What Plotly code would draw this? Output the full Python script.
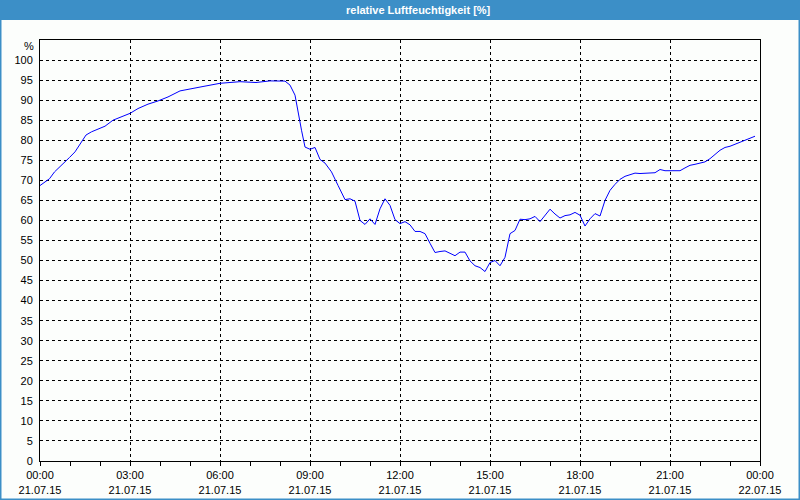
import plotly.graph_objects as go

DATE = "2015-07-21"
times = ["00:00", "00:10", "00:19", "00:29", "00:39", "00:49", "00:59", "01:10", "01:23", "01:32",
         "01:43", "01:56", "02:10", "02:26", "02:43", "03:00", "03:16", "03:36", "03:56", "04:16",
         "04:40", "05:02", "05:30", "06:00", "06:16", "06:40", "07:12", "07:40", "08:10", "08:20",
         "08:30", "08:36", "08:43", "08:50", "09:00", "09:10", "09:20", "09:30", "09:43", "09:56",
         "10:10", "10:20", "10:30", "10:40", "10:50", "11:00", "11:10", "11:20", "11:30", "11:40",
         "11:50", "12:00", "12:10", "12:20", "12:30", "12:40", "12:50", "13:00", "13:10", "13:20",
         "13:30", "13:40", "13:50", "14:00", "14:10", "14:20", "14:30", "14:40", "14:50", "15:00",
         "15:10", "15:20", "15:30", "15:40", "15:50", "16:00", "16:10", "16:20", "16:30", "16:40",
         "16:50", "17:00", "17:10", "17:20", "17:30", "17:40", "17:50", "18:00", "18:10", "18:20",
         "18:30", "18:40", "18:50", "19:00", "19:10", "19:20", "19:30", "19:40", "19:50", "20:00",
         "20:10", "20:20", "20:30", "20:40", "20:50", "21:00", "21:10", "21:20", "21:30", "21:40",
         "21:50", "22:00", "22:10", "22:20", "22:30", "22:40", "22:50", "23:00", "23:10", "23:20",
         "23:30", "23:40", "23:50"]
humidity = [68.7, 69.6, 70.4, 72.1, 73.3, 74.3, 75.7, 77.1, 79.6, 81.3,
            82.1, 82.7, 83.5, 85.0, 85.8, 86.7, 87.9, 89.0, 89.8, 90.8,
            92.3, 92.9, 93.5, 94.2, 94.4, 94.6, 94.4, 94.8, 94.75, 93.75,
            91.25, 86.7, 82.5, 78.3, 77.75, 78.2, 75.2, 74.3, 72.1, 68.75,
            65.2, 65.4, 64.8, 60.0, 59.0, 60.4, 59.0, 62.9, 65.4, 63.75,
            60.2, 59.2, 59.7, 58.9, 57.25, 57.25, 56.7, 54.3, 52.0, 52.25,
            52.4, 51.8, 51.2, 52.1, 52.1, 49.9, 48.7, 48.25, 47.25, 49.5,
            50.0, 48.7, 50.8, 56.7, 57.5, 60.3, 60.2, 60.4, 61.0, 59.7,
            61.2, 62.8, 61.6, 60.6, 61.2, 61.4, 62.0, 61.3, 58.6, 60.4,
            61.7, 61.1, 65.0, 67.5, 69.0, 70.25, 71.0, 71.4, 71.8, 71.7,
            71.8, 71.8, 71.9, 72.7, 72.4, 72.4, 72.4, 72.4, 73.1, 73.75,
            74.0, 74.25, 74.6, 75.4, 76.5, 77.5, 78.2, 78.5, 79.0, 79.5,
            80.0, 80.4, 81.0]

tick_vals = ["2015-07-21 00:00", "2015-07-21 03:00", "2015-07-21 06:00", "2015-07-21 09:00",
             "2015-07-21 12:00", "2015-07-21 15:00", "2015-07-21 18:00", "2015-07-21 21:00",
             "2015-07-22 00:00"]
tick_times = ["00:00", "03:00", "06:00", "09:00", "12:00", "15:00", "18:00", "21:00", "00:00"]
tick_dates = ["21.07.15"] * 8 + ["22.07.15"]
y_ticks = list(range(0, 101, 5))
title_text = "relative Luftfeuchtigkeit [%]"
unit_text = "%"

x = [f"{DATE} {t}" for t in times]
ticktext = [f"{a}<br>{b}" for a, b in zip(tick_times, tick_dates)]

W, H = 800, 500
L, R, T, B = 40, 40, 40, 39
pw, ph = W - L - R, H - T - B
FONT = "Liberation Sans"
BLUE = "#3c8fc7"

fig = go.Figure()
fig.add_trace(go.Scatter(x=x, y=humidity, mode="lines",
                         line=dict(color="#0000ff", width=1), showlegend=False,
                         hoverinfo="skip"))

def px2paperx(p):
    return (p - L) / pw

def px2papery(p):
    return 1 - (p - T) / ph

shapes = [
    dict(type="rect", xref="paper", yref="paper",
         x0=px2paperx(0), x1=px2paperx(W), y0=px2papery(20), y1=px2papery(0),
         fillcolor=BLUE, line=dict(width=0), layer="below"),
    dict(type="rect", xref="paper", yref="paper",
         x0=px2paperx(0.75), x1=px2paperx(W - 0.75), y0=px2papery(H - 0.75), y1=px2papery(0.75),
         fillcolor="rgba(0,0,0,0)", line=dict(color=BLUE, width=1.5), layer="above"),
]

fig.update_layout(
    width=W, height=H,
    margin=dict(l=L, r=R, t=T, b=B, pad=0, autoexpand=False),
    paper_bgcolor="#fcfefc", plot_bgcolor="#fcfefc",
    font=dict(family=FONT, size=11, color="#000000"),
    shapes=shapes,
    annotations=[
        dict(text=f"<b>{title_text}</b>", xref="paper", yref="paper",
             x=px2paperx(418), y=px2papery(10), xanchor="center", yanchor="middle",
             showarrow=False, font=dict(family=FONT, size=11, color="#ffffff")),
        dict(text=unit_text, xref="paper", yref="paper",
             x=px2paperx(36), y=px2papery(46), xanchor="right", yanchor="middle",
             showarrow=False, font=dict(family=FONT, size=11, color="#000000")),
    ],
    xaxis=dict(
        type="date", automargin=False,
        range=["2015-07-21 00:00", "2015-07-22 00:00"],
        tickmode="array", tickvals=tick_vals, ticktext=ticktext,
        ticks="outside", ticklen=4, tickcolor="#000000", tickwidth=1,
        showgrid=True, gridcolor="#000000", gridwidth=1, griddash="3px,3px",
        showline=True, linecolor="#000000", linewidth=1, mirror=True,
        zeroline=False, fixedrange=True,
        minor=dict(tickmode="linear", tick0="2015-07-21 00:00", dtick=3600000,
                   ticks="outside", ticklen=4, tickcolor="#000000", showgrid=False),
        tickfont=dict(family=FONT, size=11),
    ),
    yaxis=dict(
        range=[0, 105], automargin=False,
        tickmode="array", tickvals=y_ticks, ticktext=[str(v) for v in y_ticks],
        ticks="", ticklabelstandoff=4,
        showgrid=True, gridcolor="#000000", gridwidth=1, griddash="3px,3px",
        showline=True, linecolor="#000000", linewidth=1, mirror=True,
        zeroline=False, fixedrange=True,
        tickfont=dict(family=FONT, size=11),
    ),
)

fig.write_html("out.html", config={"displayModeBar": False})
